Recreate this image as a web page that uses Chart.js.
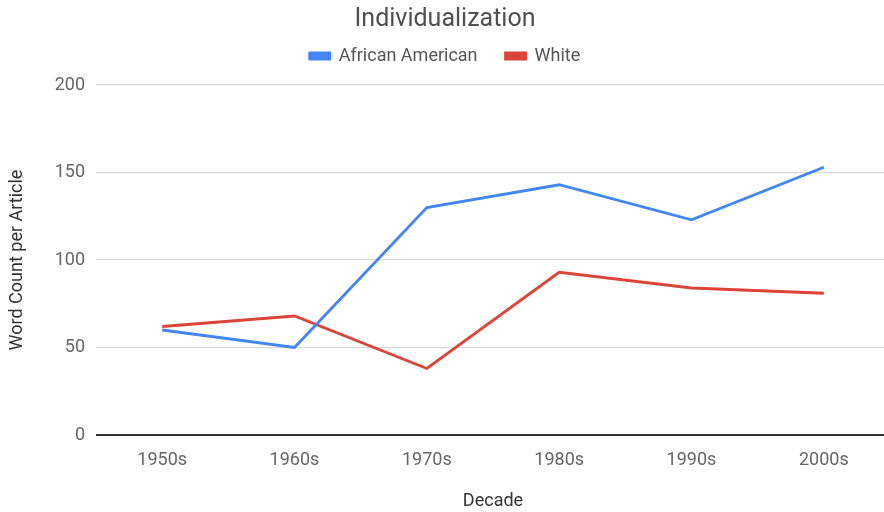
<!DOCTYPE html>
<html>
<head>
<meta charset="utf-8">
<script src="https://cdn.jsdelivr.net/npm/chart.js@4/dist/chart.umd.min.js"></script>
<style>
  html, body { margin: 0; padding: 0; background: #fff; overflow: hidden; }
  #wrap { width: 884px; height: 512px; overflow: hidden; position: relative; }
  canvas { display: block; }
</style>
</head>
<body>
<div id="wrap"><canvas id="c" width="898" height="512"></canvas></div>
<script>
const decades = ['1950s', '1960s', '1970s', '1980s', '1990s', '2000s'];
const africanAmerican = [60, 50, 130, 143, 123, 153];
const white = [62, 68, 38, 93, 84, 81];
const yTicks = [0, 50, 100, 150, 200];

const FONT = 'Roboto, "Noto Sans", sans-serif';

// Extra room between the legend row and the plot area.
const legendGap = {
  id: 'legendGap',
  beforeInit(chart) {
    const fit = chart.legend.fit;
    chart.legend.fit = function () {
      fit.call(this);
      this.height += 10;
    };
  }
};

new Chart(document.getElementById('c'), {
  type: 'line',
  data: {
    labels: decades,
    datasets: [
      {
        label: 'African American',
        data: africanAmerican,
        borderColor: '#4285f4',
        backgroundColor: '#4285f4',
        borderWidth: 2.8,
        pointRadius: 0,
        tension: 0
      },
      {
        label: 'White',
        data: white,
        borderColor: '#db4437',
        backgroundColor: '#db4437',
        borderWidth: 2.8,
        pointRadius: 0,
        tension: 0
      }
    ]
  },
  plugins: [legendGap],
  options: {
    responsive: false,
    animation: false,
    devicePixelRatio: 1,
    layout: { padding: { left: 0, right: 8, top: 0, bottom: 0 } },
    plugins: {
      title: {
        display: true,
        text: 'Individualization',
        color: '#505050',
        font: { family: FONT, size: 25, weight: 'normal', lineHeight: 1 },
        padding: { top: 7.5, bottom: -13.5 }
      },
      legend: {
        display: true,
        position: 'top',
        labels: {
          color: '#555',
          font: { family: FONT, size: 18 },
          boxWidth: 20,
          boxHeight: 6,
          padding: 28
        }
      },
      tooltip: { enabled: false }
    },
    scales: {
      x: {
        type: 'category',
        offset: true,
        grid: { display: false },
        border: { display: false },
        ticks: {
          color: '#666',
          font: { family: FONT, size: 18 },
          padding: 7
        },
        title: {
          display: true,
          text: 'Decade',
          color: '#333',
          font: { family: FONT, size: 18 },
          padding: { top: 0, bottom: 0 }
        },
        afterFit: (s) => { s.height = 77; }
      },
      y: {
        min: 0,
        max: 200,
        afterBuildTicks: (s) => { s.ticks = yTicks.map(v => ({ value: v })); },
        grid: {
          color: (ctx) => ctx.tick && ctx.tick.value === 0 ? '#333' : '#d9d9d9',
          lineWidth: (ctx) => ctx.tick && ctx.tick.value === 0 ? 2 : 1.3,
          drawTicks: false
        },
        border: { display: false },
        ticks: {
          color: '#666',
          font: { family: FONT, size: 18 },
          padding: 11
        },
        title: {
          display: true,
          text: 'Word Count per Article',
          color: '#333',
          font: { family: FONT, size: 18 },
          padding: { top: 7, bottom: 0 }
        },
        afterFit: (s) => { s.width = 96; }
      }
    }
  }
});
</script>
</body>
</html>
